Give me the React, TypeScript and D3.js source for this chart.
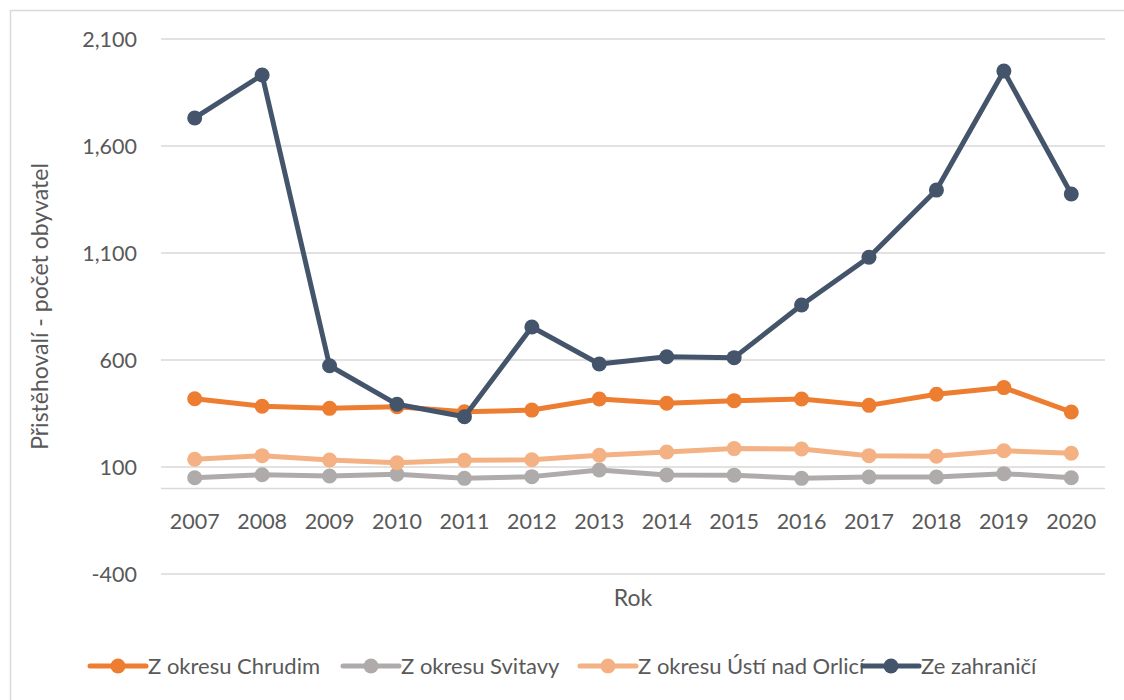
import React, { useEffect, useRef } from 'react';
import * as d3 from 'd3';

const years = ['2007', '2008', '2009', '2010', '2011', '2012', '2013', '2014', '2015', '2016', '2017', '2018', '2019', '2020'];
const chrudim = [419, 384, 374, 382, 358, 366, 418, 398, 410, 418, 388, 440, 471, 357];
const svitavy = [50, 64, 58, 66, 47, 55, 86, 63, 62, 47, 53, 53, 69, 50];
const ustiNadOrlici = [136, 153, 133, 120, 131, 134, 155, 170, 186, 184, 153, 150, 176, 164];
const zahranici = [1731, 1932, 573, 393, 335, 754, 581, 615, 611, 857, 1080, 1394, 1950, 1376];
const yTicks = [-400, 100, 600, 1100, 1600, 2100];

const seriesNames = ['Z okresu Chrudim', 'Z okresu Svitavy', 'Z okresu Ústí nad Orlicí', 'Ze zahraničí'];
const seriesColors = ['#ED7D31', '#AFABAB', '#F4B183', '#44546A'];

export default function App() {
  const ref = useRef<HTMLDivElement>(null);

  useEffect(() => {
    document.body.style.margin = '0';
    const width = 1124;
    const height = 700;
    const plot = { left: 161, right: 1105, top: 39, bottom: 574 };
    const font = 'Lato, Calibri, sans-serif';
    const textColor = '#595959';
    const gridColor = '#D9D9D9';
    // excel style: plain hyphen for negatives
    const fmt = (v: number) => d3.format(',')(v).replace('\u2212', '-');

    const root = d3.select(ref.current);
    root.selectAll('*').remove();
    const svg = root.append('svg')
      .attr('width', width)
      .attr('height', height)
      .style('display', 'block')
      .style('background', '#fff');

    // chart frame
    svg.append('rect')
      .attr('x', 10.5).attr('y', 10.5)
      .attr('width', width).attr('height', height)
      .attr('fill', 'none')
      .attr('stroke', gridColor)
      .attr('stroke-width', 1.5);

    const x = d3.scaleBand().domain(years).range([plot.left, plot.right]);
    const y = d3.scaleLinear().domain([-400, 2100]).range([plot.bottom, plot.top]);

    // grid + y labels
    const grid = svg.append('g');
    grid.selectAll('line')
      .data(yTicks)
      .enter()
      .append('line')
      .attr('x1', plot.left).attr('x2', plot.right)
      .attr('y1', d => y(d)).attr('y2', d => y(d))
      .attr('stroke', gridColor)
      .attr('stroke-width', 1.5);
    grid.selectAll('text')
      .data(yTicks)
      .enter()
      .append('text')
      .attr('x', 137)
      .attr('y', d => y(d))
      .attr('dy', '0.35em')
      .attr('text-anchor', 'end')
      .style('font-family', font)
      .style('font-size', '21.5px')
      .style('fill', textColor)
      .text(d => fmt(d));

    // category axis at 0
    svg.append('line')
      .attr('x1', plot.left).attr('x2', plot.right)
      .attr('y1', y(0)).attr('y2', y(0))
      .attr('stroke', gridColor)
      .attr('stroke-width', 1.5);

    svg.append('g').selectAll('text')
      .data(years)
      .enter()
      .append('text')
      .attr('x', d => (x(d) as number) + x.bandwidth() / 2)
      .attr('y', 521)
      .attr('dy', '0.35em')
      .attr('text-anchor', 'middle')
      .style('font-family', font)
      .style('font-size', '21.5px')
      .style('fill', textColor)
      .text(d => d);

    // axis titles
    svg.append('text')
      .attr('x', (plot.left + plot.right) / 2)
      .attr('y', 598)
      .attr('dy', '0.35em')
      .attr('text-anchor', 'middle')
      .style('font-family', font)
      .style('font-size', '23px')
      .style('fill', textColor)
      .text('Rok');

    svg.append('text')
      .attr('transform', `translate(40,${(plot.top + plot.bottom) / 2}) rotate(-90)`)
      .attr('dy', '0.35em')
      .attr('text-anchor', 'middle')
      .style('font-family', font)
      .style('font-size', '23px')
      .style('fill', textColor)
      .text('Přistěhovalí - počet obyvatel');

    // series
    const allSeries = [chrudim, svitavy, ustiNadOrlici, zahranici];
    const line = d3.line<number>()
      .x((d, i) => (x(years[i]) as number) + x.bandwidth() / 2)
      .y(d => y(d));

    allSeries.forEach((values, si) => {
      const g = svg.append('g');
      g.append('path')
        .datum(values)
        .attr('d', line)
        .attr('fill', 'none')
        .attr('stroke', seriesColors[si])
        .attr('stroke-width', 5)
        .attr('stroke-linejoin', 'round');
      g.selectAll('circle')
        .data(values)
        .enter()
        .append('circle')
        .attr('cx', (d, i) => (x(years[i]) as number) + x.bandwidth() / 2)
        .attr('cy', d => y(d))
        .attr('r', 7.5)
        .attr('fill', seriesColors[si]);
    });

    // legend
    const legendX = [90, 343, 580, 863];
    const legend = svg.append('g');
    seriesNames.forEach((name, i) => {
      const lg = legend.append('g').attr('transform', `translate(${legendX[i]},666)`);
      lg.append('line')
        .attr('x1', 0).attr('x2', 56)
        .attr('stroke', seriesColors[i])
        .attr('stroke-width', 5)
        .attr('stroke-linecap', 'round');
      lg.append('circle').attr('cx', 28).attr('r', 7.5).attr('fill', seriesColors[i]);
      lg.append('text')
        .attr('x', 58)
        .attr('dy', '0.35em')
        .style('font-family', font)
        .style('font-size', '22px')
        .style('fill', textColor)
        .text(name);
    });
  }, []);

  return <div ref={ref} style={{ display: 'inline-block', position: 'relative' }}></div>;
}
